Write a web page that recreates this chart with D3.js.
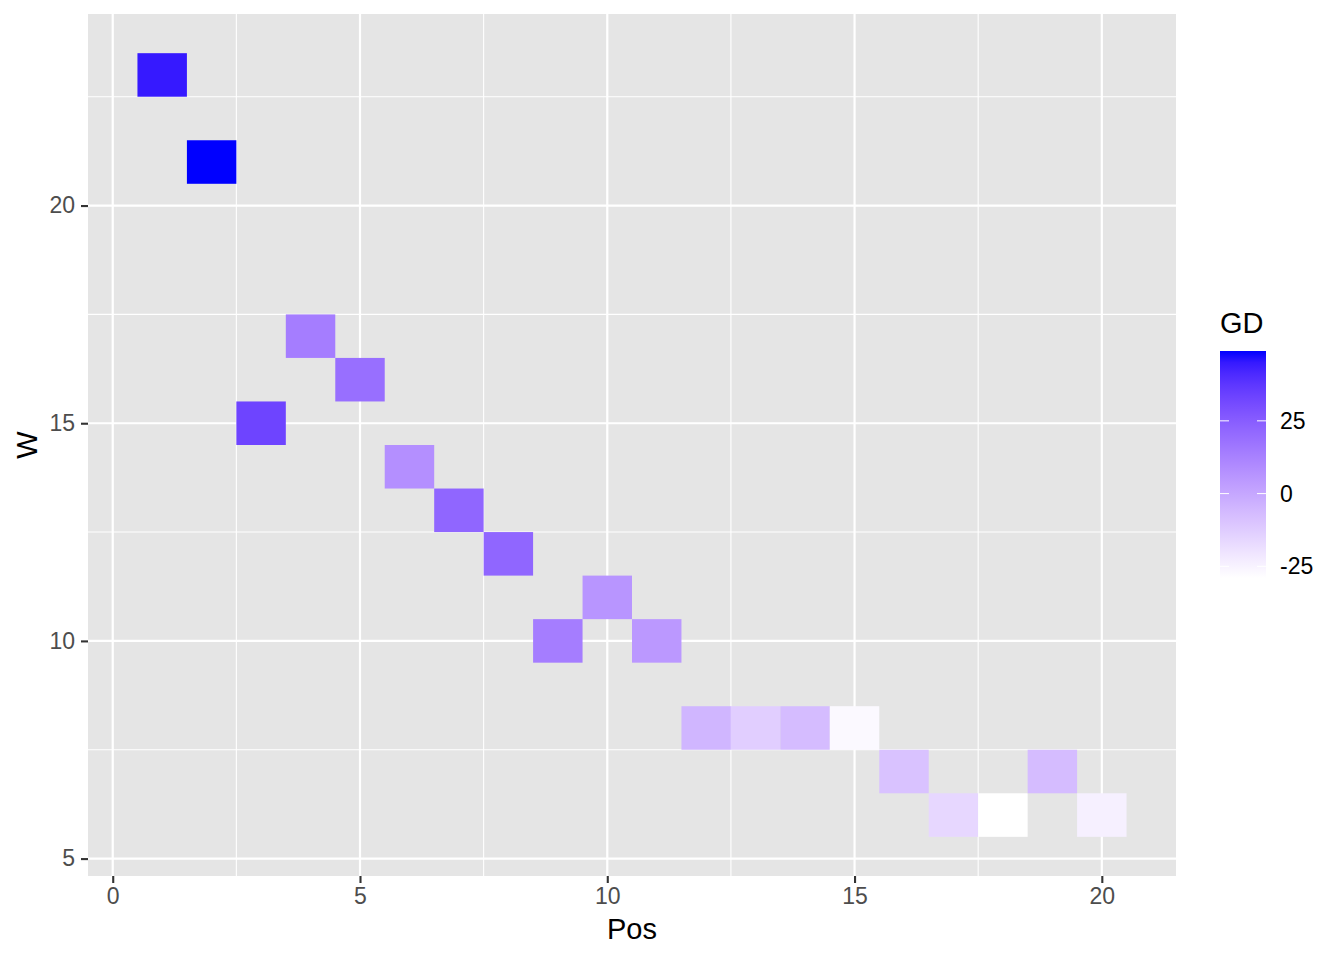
<!DOCTYPE html>
<html>
<head>
<meta charset="utf-8">
<script src="https://cdn.jsdelivr.net/npm/d3@7"></script>
<style>
  body { margin: 0; background: #fff; }
  text { font-family: "Liberation Sans", Arial, sans-serif; }
</style>
</head>
<body>
<div id="chart"></div>
<script>
// data
let pos = [1, 2, 3, 4, 5, 6, 7, 8, 9, 10, 11, 12, 13, 14, 15, 16, 17, 18, 19, 20];
let wins = [23, 21, 15, 17, 16, 14, 13, 12, 10, 11, 10, 8, 8, 8, 8, 7, 6, 6, 7, 6];
let gd = [45, 49, 33, 14, 19, 8, 22, 22, 14, 6, 5, -5, -13, -7, -27, -9, -16, -29, -7, -24];
let xTicks = [0, 5, 10, 15, 20];
let yTicks = [5, 10, 15, 20];
let legendTicks = [-25, 0, 25];

let width = 1344;
let height = 960;
let panel = { left: 88, right: 1176, top: 14, bottom: 876 };
let tickFont = "23px";
let titleFont = "29px";

let svg = d3.select("#chart").append("svg")
    .attr("width", width)
    .attr("height", height);

let x = d3.scaleLinear().domain([-0.5, 21.5]).range([panel.left, panel.right]);
let y = d3.scaleLinear().domain([4.6, 24.4]).range([panel.bottom, panel.top]);
let gdExtent = d3.extent(gd);
let color = d3.scaleLinear().domain(gdExtent).range(["white", "blue"])
    .interpolate(d3.interpolateLab);

// panel background
svg.append("rect")
    .attr("x", panel.left).attr("y", panel.top)
    .attr("width", panel.right - panel.left)
    .attr("height", panel.bottom - panel.top)
    .attr("fill", "#e5e5e5");

let grid = svg.append("g");
let xMinor = d3.range(2.5, 21, 5);
let yMinor = d3.range(7.5, 24, 5);
xMinor.forEach(function (v) {
    grid.append("line").attr("x1", x(v)).attr("x2", x(v))
        .attr("y1", panel.top).attr("y2", panel.bottom)
        .attr("stroke", "#fff").attr("stroke-width", 1.1);
});
yMinor.forEach(function (v) {
    grid.append("line").attr("y1", y(v)).attr("y2", y(v))
        .attr("x1", panel.left).attr("x2", panel.right)
        .attr("stroke", "#fff").attr("stroke-width", 1.1);
});
xTicks.forEach(function (v) {
    grid.append("line").attr("x1", x(v)).attr("x2", x(v))
        .attr("y1", panel.top).attr("y2", panel.bottom)
        .attr("stroke", "#fff").attr("stroke-width", 2.2);
});
yTicks.forEach(function (v) {
    grid.append("line").attr("y1", y(v)).attr("y2", y(v))
        .attr("x1", panel.left).attr("x2", panel.right)
        .attr("stroke", "#fff").attr("stroke-width", 2.2);
});

// tiles
let tiles = pos.map(function (p, i) { return { pos: p, w: wins[i], gd: gd[i] }; });
svg.append("g").selectAll("rect")
    .data(tiles)
    .enter().append("rect")
    .attr("x", function (d) { return x(d.pos - 0.5); })
    .attr("y", function (d) { return y(d.w + 0.5); })
    .attr("width", function (d) { return x(d.pos + 0.5) - x(d.pos - 0.5); })
    .attr("height", function (d) { return y(d.w - 0.5) - y(d.w + 0.5); })
    .attr("fill", function (d) { return color(d.gd); });

// axes
let xAxis = svg.append("g")
    .attr("transform", "translate(0," + panel.bottom + ")")
    .call(d3.axisBottom(x).tickValues(xTicks).tickSize(7).tickPadding(5));
let yAxis = svg.append("g")
    .attr("transform", "translate(" + panel.left + ",0)")
    .call(d3.axisLeft(y).tickValues(yTicks).tickSize(7).tickPadding(6));
[xAxis, yAxis].forEach(function (a) {
    a.select(".domain").remove();
    a.selectAll(".tick line").attr("stroke", "#333").attr("stroke-width", 2.1);
    a.selectAll(".tick text").attr("fill", "#4d4d4d")
        .style("font-size", tickFont);
});

svg.append("text")
    .attr("x", (panel.left + panel.right) / 2).attr("y", 939)
    .attr("text-anchor", "middle")
    .style("font-size", titleFont)
    .text("Pos");
svg.append("text")
    .attr("transform", "translate(37," + (panel.top + panel.bottom) / 2 + ") rotate(-90)")
    .attr("text-anchor", "middle")
    .style("font-size", titleFont)
    .text("W");

// legend colour bar
let bar = { x: 1220, w: 46, top: 351, bottom: 578 };
let ly = d3.scaleLinear().domain(gdExtent).range([bar.bottom, bar.top]);
let defs = svg.append("defs");
let grad = defs.append("linearGradient").attr("id", "gdgrad")
    .attr("x1", 0).attr("y1", 1).attr("x2", 0).attr("y2", 0);
d3.range(0, 1.0001, 0.05).forEach(function (t) {
    grad.append("stop").attr("offset", t)
        .attr("stop-color", color(gdExtent[0] + t * (gdExtent[1] - gdExtent[0])));
});
svg.append("rect")
    .attr("x", bar.x).attr("y", bar.top)
    .attr("width", bar.w).attr("height", bar.bottom - bar.top)
    .attr("fill", "url(#gdgrad)");
let lg = svg.append("g");
legendTicks.forEach(function (v) {
    lg.append("line").attr("x1", bar.x).attr("x2", bar.x + 9)
        .attr("y1", ly(v)).attr("y2", ly(v))
        .attr("stroke", "#fff").attr("stroke-width", 1);
    lg.append("line").attr("x1", bar.x + bar.w - 9).attr("x2", bar.x + bar.w)
        .attr("y1", ly(v)).attr("y2", ly(v))
        .attr("stroke", "#fff").attr("stroke-width", 1);
    lg.append("text").attr("x", bar.x + bar.w + 14).attr("y", ly(v))
        .attr("dy", "0.35em")
        .style("font-size", tickFont)
        .text(v);
});
svg.append("text")
    .attr("x", bar.x).attr("y", 333)
    .style("font-size", titleFont)
    .text("GD");
</script>
</body>
</html>
